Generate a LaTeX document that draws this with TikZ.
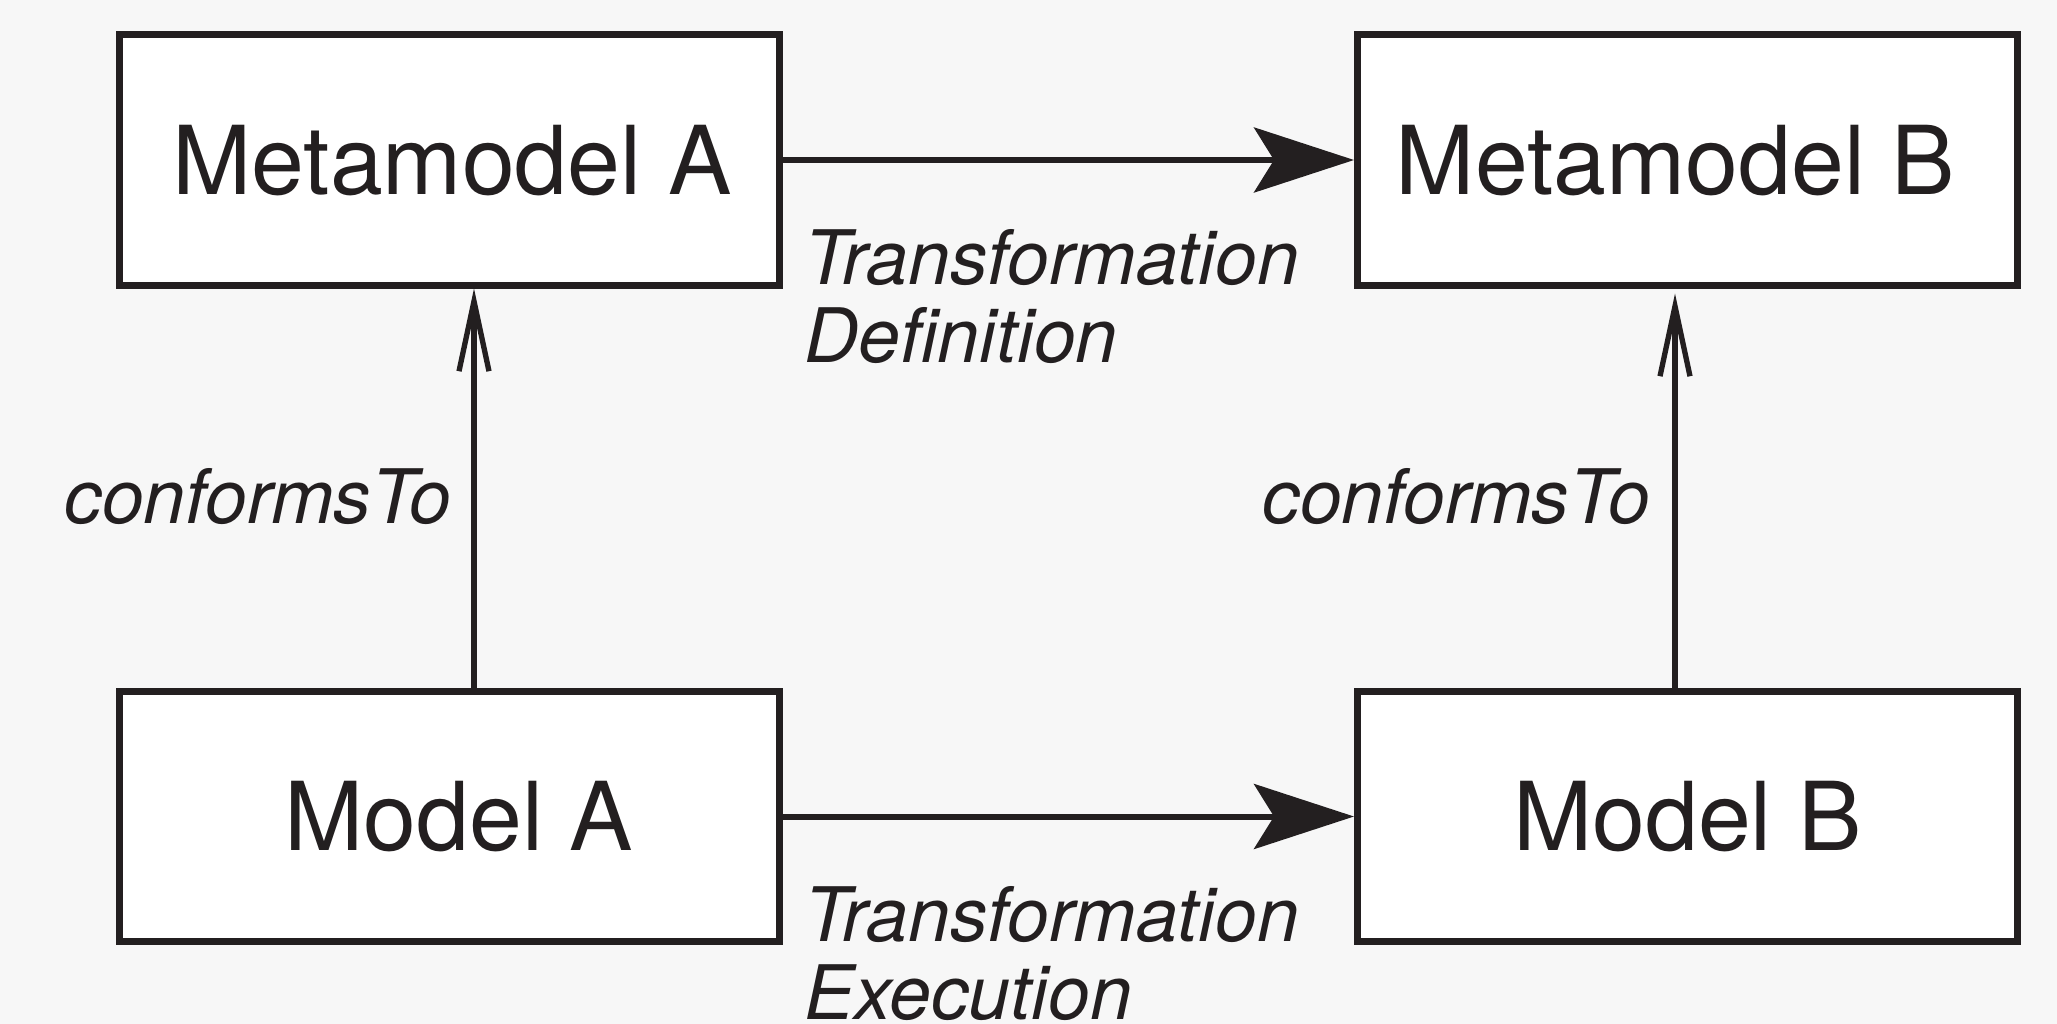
\documentclass[tikz,border=0pt]{standalone}
\usepackage{fontspec}
\setmainfont{TeX Gyre Heros}
\usetikzlibrary{arrows.meta}
\definecolor{ink}{HTML}{231F20}
\definecolor{paper}{HTML}{F7F7F7}
% two left-aligned lines whose baseline is that of the first line
\newcommand{\twolines}[2]{\vtop{\hbox{#1}\hbox{#2}}}
\begin{document}
\begin{tikzpicture}[x=0.75pt,y=-0.75pt,
  modelbox/.style={draw=ink, fill=white, line width=5.25pt,
    minimum width=495pt, minimum height=187.5pt, inner sep=0pt,
    font=\fontsize{71.3}{85}\selectfont, text=ink,
    text height=51pt, text depth=0pt},
  lbl/.style={inner sep=0pt, text=ink,
    font=\fontsize{56.4}{58.5}\selectfont\itshape},
  flow/.style={draw=ink, line width=4.5pt,
    -{Stealth[length=75pt, width=48.75pt, inset=15pt]}},
  conf/.style={draw=ink, line width=4pt,
    -{Straight Barb[length=52.5pt, width=22.5pt, sharp]}}]
  % canvas
  \fill[paper] (0,0) rectangle (2057,1024);
  \useasboundingbox (0,0) rectangle (2057,1024);

  % models and metamodels
  \node[modelbox] (mmA) at (449,160)      {\hspace*{4.5pt}Metamodel A};
  \node[modelbox] (mmB) at (1687.5,160)   {Metamodel B\hspace*{18pt}};
  \node[modelbox] (mA)  at (449,816.5)    {\hspace*{15pt}Model A};
  \node[modelbox] (mB)  at (1687.5,816.5) {Model B};

  % transformations
  \draw[flow] (mmA.east) -- (mmB.west);
  \draw[flow] (mA.east) -- (mB.west);

  % conformance relations
  \coordinate (xa) at (474,0);
  \coordinate (xb) at (1675,0);
  \draw[conf] (mA.north -| xa) -- (mmA.south -| xa);
  \draw[conf, shorten >=3.75pt] (mB.north -| xb) -- (mmB.south -| xb);

  % labels
  \node[lbl, anchor=base west] (tdef) at (804,284)
    {\twolines{Transformation}{Definition}};
  \node[lbl, anchor=base west] (texe) at (804,941)
    {\twolines{Transformation}{Execution}};
  \node[lbl, anchor=base east] (confA) at (452,523) {conformsTo};
  \node[lbl, anchor=base east] (confB) at (1650,523) {conformsTo};
\end{tikzpicture}
\end{document}
